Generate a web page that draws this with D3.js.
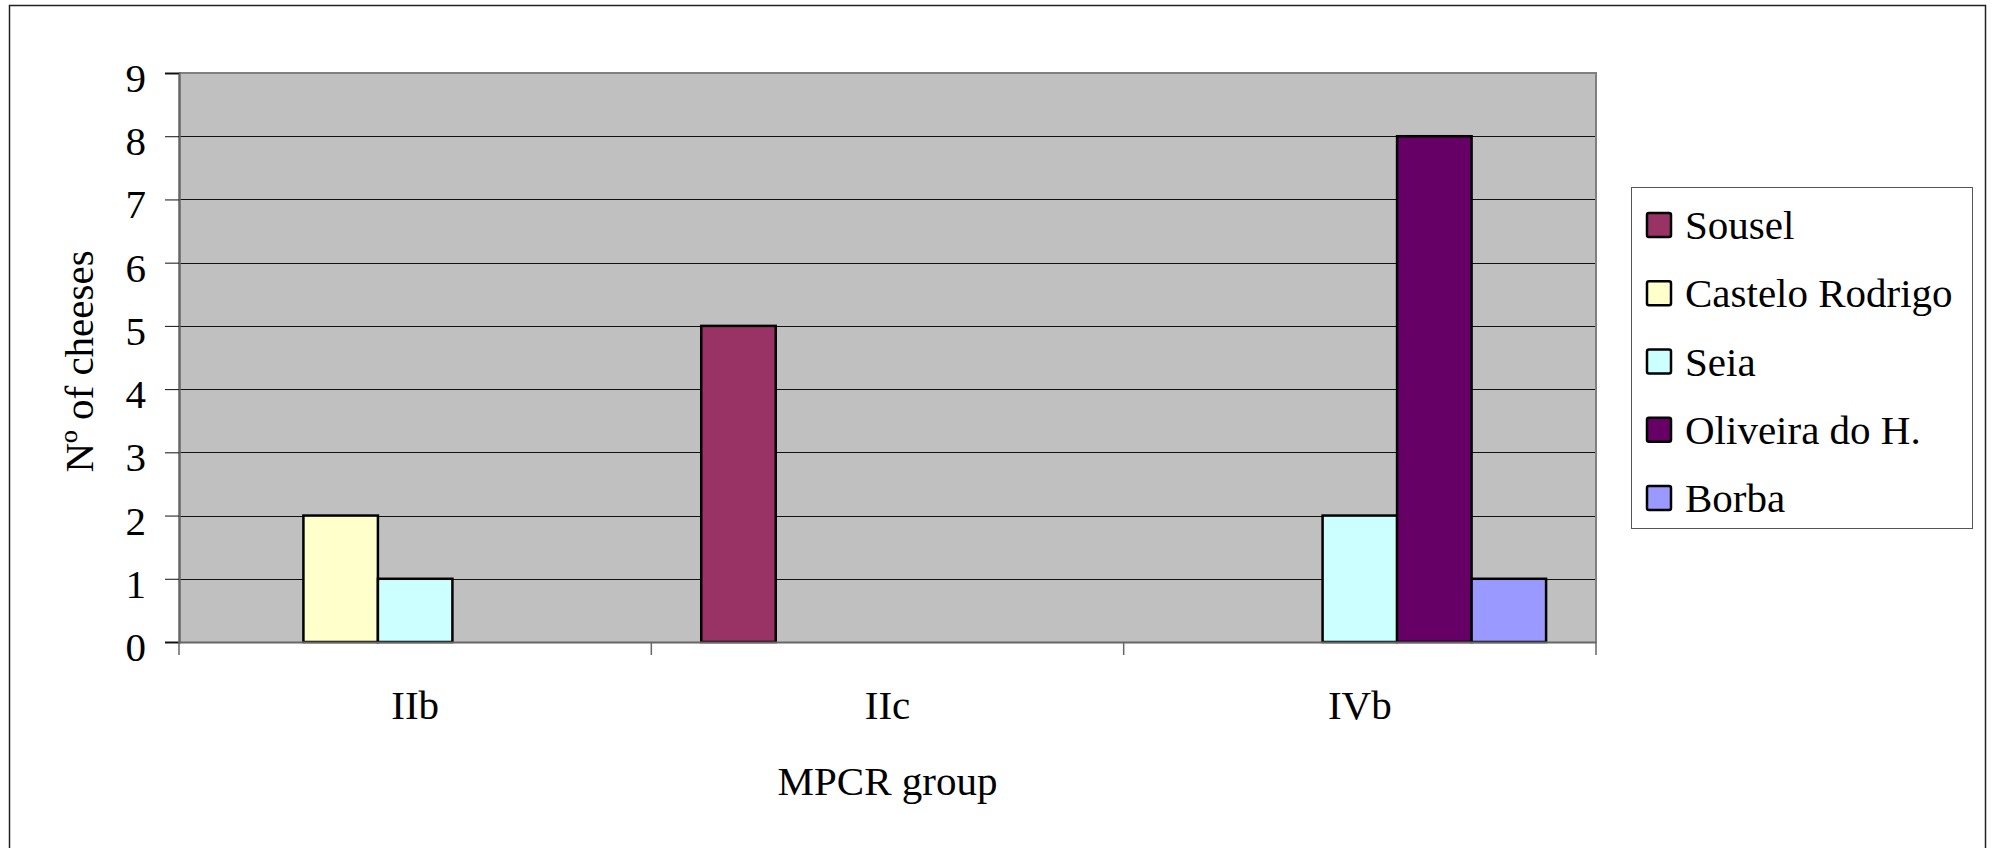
<!DOCTYPE html>
<html>
<head>
<meta charset="utf-8">
<script src="https://cdn.jsdelivr.net/npm/d3@7"></script>
<style>
  html, body { margin: 0; padding: 0; background: #fff; }
  svg { display: block; }
  text { font-family: "Liberation Serif", "Times New Roman", serif; fill: #000; }
</style>
</head>
<body>
<svg id="chart" width="1992" height="848"></svg>
<script>
const categories = ["IIb", "IIc", "IVb"];
const seriesNames = ["Sousel", "Castelo Rodrigo", "Seia", "Oliveira do H.", "Borba"];
const sousel = [0, 5, 0];
const casteloRodrigo = [2, 0, 0];
const seia = [1, 0, 2];
const oliveira = [0, 0, 8];
const borba = [0, 0, 1];
const seriesValues = [sousel, casteloRodrigo, seia, oliveira, borba];
const seriesColors = ["#993366", "#FFFFCC", "#CCFFFF", "#660066", "#9999FF"];
const yTicks = [0, 1, 2, 3, 4, 5, 6, 7, 8, 9];
const yTitle = "Nº of cheeses";
const xTitle = "MPCR group";

const svg = d3.select("#chart");
const plot = { left: 179, right: 1596, top: 73, bottom: 642 };

// outer chart border
svg.append("rect")
  .attr("x", 9.5).attr("y", 5.5)
  .attr("width", 1976).attr("height", 900)
  .attr("fill", "#fff").attr("stroke", "#222").attr("stroke-width", 1.5);

const x0 = d3.scaleBand().domain(categories).range([plot.left, plot.right]).padding(0);
const x1 = d3.scaleBand().domain(d3.range(seriesNames.length))
  .range([0, x0.bandwidth()]).paddingInner(0).paddingOuter(0.67);
const y = d3.scaleLinear().domain([0, 9]).range([plot.bottom, plot.top]);

// plot background
svg.append("rect")
  .attr("x", plot.left).attr("y", plot.top)
  .attr("width", plot.right - plot.left).attr("height", plot.bottom - plot.top)
  .attr("fill", "#C0C0C0");

// gridlines
svg.append("g").selectAll("line").data(yTicks.filter(d => d > 0 && d < 9)).join("line")
  .attr("x1", plot.left).attr("x2", plot.right)
  .attr("y1", d => Math.round(y(d)) + 0.5).attr("y2", d => Math.round(y(d)) + 0.5)
  .attr("stroke", "#111").attr("stroke-width", 1);

// plot border top & right (gray)
svg.append("path")
  .attr("d", `M${plot.left},${plot.top} H${plot.right} V${plot.bottom}`)
  .attr("fill", "none").attr("stroke", "#808080").attr("stroke-width", 2);

// bars
const groups = svg.append("g").selectAll("g").data(categories).join("g")
  .attr("transform", d => `translate(${x0(d)},0)`);
groups.selectAll("rect")
  .data((c, ci) => seriesValues.map((vals, si) => ({ si, v: vals[ci] })).filter(d => d.v > 0))
  .join("rect")
  .attr("x", d => x1(d.si))
  .attr("y", d => y(d.v))
  .attr("width", x1.bandwidth())
  .attr("height", d => y(0) - y(d.v))
  .attr("fill", d => seriesColors[d.si])
  .attr("stroke", "#000").attr("stroke-width", 2.5);

// y axis
const yAxis = d3.axisLeft(y).tickValues(yTicks).tickSize(14).tickFormat(d3.format("d"));
const gy = svg.append("g").attr("transform", `translate(${plot.left},0)`).call(yAxis);
gy.select(".domain").attr("stroke", "#666").attr("stroke-width", 2.5);
gy.selectAll(".tick line").attr("stroke", "#111");
gy.selectAll(".tick text")
  .attr("x", -33).attr("dy", "0.45em")
  .style("font-size", "41px").style("font-family", '"Liberation Serif", serif');

// x axis
const xAxis = d3.axisBottom(x0).tickSize(0).tickPadding(0);
const gx = svg.append("g").attr("transform", `translate(0,${plot.bottom})`).call(xAxis);
gx.select(".domain").attr("stroke", "#666").attr("stroke-width", 2);
gx.selectAll(".tick text")
  .attr("y", 77).attr("dy", 0)
  .style("font-size", "41px").style("font-family", '"Liberation Serif", serif');
// category separator ticks
const sepPositions = categories.map(c => x0(c)).concat([x0.range()[1]]);
svg.append("g").selectAll("line").data(sepPositions).join("line")
  .attr("x1", d => d).attr("x2", d => d)
  .attr("y1", plot.bottom).attr("y2", plot.bottom + 13)
  .attr("stroke", "#666").attr("stroke-width", 1.5);

// axis titles
svg.append("text")
  .attr("x", (plot.left + plot.right) / 2).attr("y", 795)
  .attr("text-anchor", "middle").style("font-size", "41px").text(xTitle);
svg.append("text")
  .attr("transform", `translate(93,${(plot.top + plot.bottom) / 2 + 4}) rotate(-90)`)
  .attr("text-anchor", "middle").style("font-size", "41px").text(yTitle);

// legend
const legend = svg.append("g");
legend.append("rect")
  .attr("x", 1631.5).attr("y", 187.5).attr("width", 1341).attr("height", 341)
  .attr("width", 341)
  .attr("fill", "#fff").attr("stroke", "#555").attr("stroke-width", 1);
const rowY = d3.scalePoint().domain(d3.range(seriesNames.length)).range([225, 498]);
const items = legend.selectAll("g.item").data(seriesNames).join("g").attr("class", "item")
  .attr("transform", (d, i) => `translate(0,${rowY(i)})`);
items.append("rect")
  .attr("x", 1647).attr("y", -12).attr("width", 24).attr("height", 24)
  .attr("rx", 2)
  .attr("fill", (d, i) => seriesColors[i]).attr("stroke", "#000").attr("stroke-width", 2.5);
items.append("text")
  .attr("x", 1685).attr("y", 14)
  .style("font-size", "41px").text(d => d);
</script>
</body>
</html>
